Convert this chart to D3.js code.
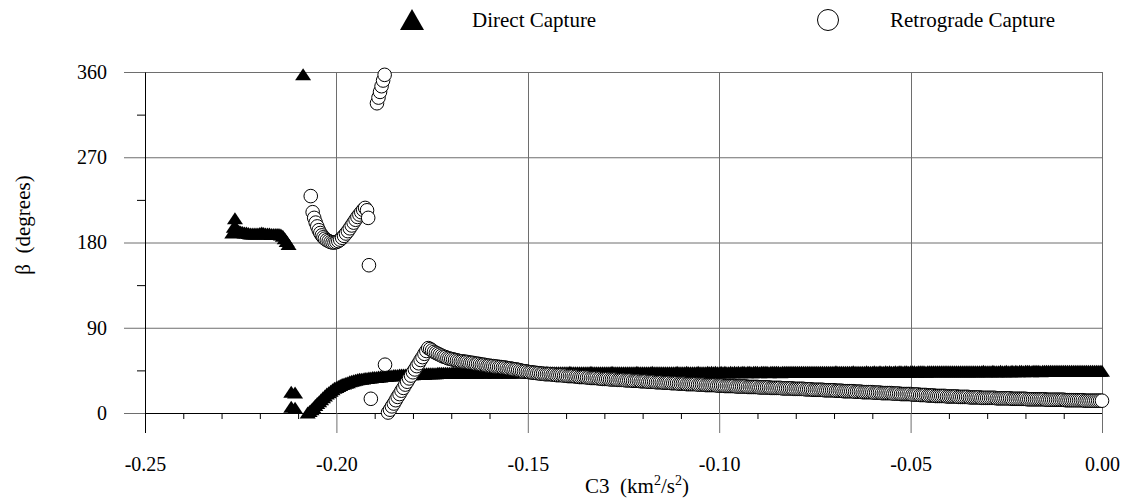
<!DOCTYPE html>
<html>
<head>
<meta charset="utf-8">
<script src="https://cdn.jsdelivr.net/npm/d3@7"></script>
<style>
	body { margin: 0; background: #fff; }
</style>
</head>
<body>
<div id="chart"></div>
<script>
'use strict'

var serif = "'Liberation Serif', 'Times New Roman', Times, 'DejaVu Serif', serif"

// C3 grid of the two long runs (km^2/s^2), step 0.0005
var directStart = -0.2075
var retroStart = -0.1865
var c3Step = 0.0005

// beta (deg) of the direct run, -0.2075 .. 0.000
var directBeta = [
	0, 1.5, 3.5, 5.5, 8, 10, 12, 14, 16, 18,
	20, 21.5, 23, 24.5, 26, 27, 28, 29, 30, 30.5,
	31.5, 32, 33, 33.5, 34, 34.5, 35, 35.5, 35.5, 36,
	36.5, 36.5, 37, 37, 37.5, 37.5, 37.5, 38, 38, 38.5,
	38.5, 38.5, 39, 39, 39, 39.5, 39.5, 39.5, 40, 40,
	40, 40, 40.5, 40.5, 40.5, 40.5, 41, 41, 41, 41,
	41, 41, 41.5, 41.5, 41.5, 41.5, 41.5, 41.5, 42, 42,
	42, 42, 42, 42, 42, 42, 42.5, 42, 42, 42.5, 42, 42, 42.5, 42.5, 42, 42.5, 42.5, 42.5, 42, 42.5,
	42.5, 42.5, 42, 42.5, 42.5, 42.5, 42.5, 42.5, 42, 42.5, 42.5, 42.5, 42.5, 42.5, 42.5, 42, 42.5, 42.5, 42.5, 42.5,
	42.5, 42.5, 42.5, 42.5, 43, 42.5, 42.5, 42.5, 42.5, 42.5, 42.5, 42.5, 42.5, 42.5, 42.5, 43, 42.5, 42.5, 42.5, 42.5,
	42.5, 42.5, 42.5, 42.5, 42.5, 42.5, 42.5, 43, 42.5, 42.5, 42.5, 42.5, 42.5, 42.5, 42.5, 42.5, 42.5, 42.5, 43, 42.5,
	42.5, 42.5, 42.5, 42.5, 42.5, 42.5, 42.5, 42.5, 42.5, 43, 42.5, 42.5, 42.5, 42.5, 42.5, 42.5, 42.5, 42.5, 42.5, 42.5,
	42.5, 42.5, 43, 42.5, 42.5, 42.5, 42.5, 42.5, 42.5, 42.5, 43, 42.5, 42.5, 42.5, 42.5, 42.5, 42.5, 42.5, 42.5, 42.5,
	42.5, 42.5, 42.5, 43, 42.5, 42.5, 42.5, 42.5, 43, 42.5, 42.5, 42.5, 42.5, 42.5, 43, 42.5, 42.5, 42.5, 42.5, 43,
	42.5, 43, 42.5, 43, 42.5, 42.5, 43, 42.5, 43, 42.5, 42.5, 43, 42.5, 43, 42.5, 43, 42.5, 43, 43, 42.5,
	43, 43, 42.5, 43, 43, 43, 42.5, 43, 43, 43, 43, 42.5, 43, 43, 43, 43, 43, 42.5, 43, 43,
	43, 43, 43, 43, 43, 43, 43, 43, 43, 43, 43, 43, 43, 43, 43, 43, 43, 43, 43, 43,
	43, 43, 43, 43, 43, 43, 43.5, 43, 43, 43, 43, 43, 43, 43, 43, 43.5, 43, 43, 43, 43,
	43, 43, 43.5, 43, 43, 43, 43.5, 43, 43, 43.5, 43, 43, 43.5, 43, 43.5, 43, 43, 43.5, 43, 43.5,
	43.5, 43, 43.5, 43.5, 43, 43.5, 43.5, 43.5, 43, 43.5, 43.5, 43.5, 43.5, 43, 43.5, 43.5, 43.5, 43.5, 43.5, 43.5,
	43.5, 43.5, 43.5, 43.5, 43.5, 43.5, 43.5, 43.5, 43.5, 43.5, 43.5, 43.5, 43.5, 43.5, 43.5, 43.5, 43.5, 43.5, 43.5, 43.5,
	43.5, 43.5, 43.5, 44, 43.5, 43.5, 43.5, 43.5, 44, 43.5, 43.5, 43.5, 44, 43.5, 43.5, 44, 43.5, 43.5, 44, 43.5,
	44, 43.5, 44, 44, 43.5, 44, 44, 44, 43.5, 44, 44, 44, 44, 43.5, 44, 44, 44, 44, 44, 44,
	44, 44, 44, 44, 44, 44, 44, 44, 44, 44, 44, 44, 44, 44, 44, 44, 44, 44, 44, 44,
	44, 44, 44, 44, 44, 44
]

// beta (deg) of the retrograde run, -0.1865 .. 0.000
var retroBeta = [
	0.5, 3.5, 7, 10, 13.5, 17, 20, 23.5, 26.5, 30,
	33, 36.5, 39.5, 43, 46, 49.5, 52.5, 56, 59, 62.5,
	65.5, 68.5, 67.5, 66, 64.5, 63.5, 62.5, 61.5, 60.5, 59.5,
	59, 58, 57.5, 57, 56.5, 56, 55.5, 55, 54.5, 54.5,
	54, 54, 53.5, 53, 53, 52.5, 52, 52, 51.5, 51,
	51, 50.5, 50, 50, 49.5, 49.5, 49, 49, 48.5, 48.5,
	48, 48, 47.5, 47, 47, 46.5, 46, 46, 45.5, 45,
	44.5, 44, 44, 43.5, 43, 43, 42.5, 42.5, 42, 42,
	41.5, 41.5, 41, 41, 41, 41, 40.5, 40.5, 40, 40,
	40, 40, 39.5, 39.5, 39, 39, 39, 39, 38.5, 38.5,
	38, 38, 38, 38, 37.5, 37.5, 37, 37, 37, 37,
	36.5, 36.5, 36, 36, 36, 36, 35.5, 35.5, 35.5, 35.5,
	35, 35, 35, 35, 34.5, 34.5, 34.5, 34.5, 34, 34,
	34, 34, 33.5, 33.5, 33.5, 33.5, 33, 33, 33, 33,
	32.5, 32.5, 32.5, 32.5, 32, 32, 32, 32, 31.5, 31.5,
	31.5, 31.5, 31, 31, 31, 31, 30.5, 30.5, 30.5, 30.5,
	30.5, 30.5, 30, 30, 30, 30, 29.5, 29.5, 29.5, 29.5,
	29.5, 29.5, 29, 29, 29, 29, 28.5, 28.5, 28.5, 28.5,
	28.5, 28.5, 28, 28, 28, 28, 28, 28, 27.5, 27.5,
	27.5, 27.5, 27.5, 27.5, 27, 27, 27, 27, 27, 27,
	26.5, 26.5, 26.5, 26.5, 26.5, 26.5, 26, 26, 26, 26, 26, 26, 25.5, 25.5, 25.5, 25.5, 25.5, 25.5, 25, 25,
	25, 25, 24.5, 24.5, 24.5, 24.5, 24.5, 24.5, 24, 24, 24, 24, 24, 24, 23.5, 23.5, 23.5, 23.5, 23, 23,
	23, 23, 23, 23, 22.5, 22.5, 22.5, 22.5, 22, 22, 22, 22, 22, 22, 21.5, 21.5, 21.5, 21.5, 21, 21,
	21, 21, 21, 21, 20.5, 20.5, 20.5, 20.5, 20, 20, 20, 20, 20, 20, 19.5, 19.5, 19.5, 19.5, 19, 19,
	19, 19, 18.5, 18.5, 18.5, 18.5, 18, 18, 18, 18, 18, 18, 17.5, 17.5, 17.5, 17.5, 17.5, 17.5, 17, 17,
	17, 17, 17, 17, 16.5, 16.5, 16.5, 16.5, 16.5, 16.5, 16, 16, 16, 16, 16, 16, 16, 16, 15.5, 15.5,
	15.5, 15.5, 15.5, 15.5, 15.5, 15.5, 15, 15, 15, 15, 15, 15, 15, 15, 14.5, 14.5, 14.5, 14.5, 14.5, 14.5,
	14.5, 14.5, 14.5, 14.5, 14, 14, 14, 14, 14, 14, 14, 14, 14, 14, 13.5, 13.5, 13.5, 13.5, 13.5, 13.5,
	13.5, 13.5, 13.5, 13.5, 13, 13, 13, 13, 13, 13, 13, 13, 13, 13
]

// scattered direct points [C3, beta]
var directOther = [
	[-0.2272, 190], [-0.2268, 196], [-0.2265, 205], [-0.226, 194], [-0.2255, 192],
	[-0.225, 191], [-0.2245, 190.5], [-0.224, 190], [-0.2235, 190], [-0.223, 189.5],
	[-0.2225, 189], [-0.222, 189], [-0.2215, 189], [-0.221, 189], [-0.2205, 189],
	[-0.22, 189.5], [-0.2195, 190], [-0.219, 189.5], [-0.2185, 189], [-0.218, 189],
	[-0.2175, 189], [-0.217, 188.5], [-0.2165, 188.5], [-0.216, 188.5], [-0.2155, 188.5],
	[-0.215, 188.5], [-0.2145, 188], [-0.214, 186.5], [-0.2135, 184], [-0.213, 181],
	[-0.2125, 178],
	[-0.2087, 357],
	[-0.2118, 22], [-0.2108, 21], [-0.2118, 6], [-0.2108, 5]
]

// scattered retrograde points [C3, beta]
var retroOther = [
	[-0.2067, 229], [-0.2062, 212], [-0.2058, 206], [-0.2054, 201], [-0.205, 197],
	[-0.2046, 193], [-0.2042, 190], [-0.2038, 187.5], [-0.2034, 185.5], [-0.203, 184],
	[-0.2025, 182.5], [-0.202, 181.5], [-0.2015, 180.5], [-0.201, 180], [-0.2005, 180],
	[-0.2, 180.5], [-0.1995, 181.5], [-0.199, 183], [-0.1985, 185], [-0.198, 187],
	[-0.1975, 189.5], [-0.197, 192], [-0.1965, 195], [-0.196, 198], [-0.1955, 201],
	[-0.195, 204], [-0.1945, 207], [-0.194, 209.5], [-0.1935, 212], [-0.193, 214.5],
	[-0.1925, 216.5], [-0.192, 214], [-0.1917, 206],
	[-0.1915, 156],
	[-0.1894, 327], [-0.189, 333], [-0.1886, 339], [-0.1882, 345], [-0.1878, 351], [-0.1874, 357],
	[-0.191, 15], [-0.1873, 51]
]

var xMajor = [-0.25, -0.20, -0.15, -0.10, -0.05, 0.00]
var xMinor = [-0.24, -0.23, -0.22, -0.21, -0.19, -0.18, -0.17, -0.16, -0.14, -0.13, -0.12, -0.11,
	-0.09, -0.08, -0.07, -0.06, -0.04, -0.03, -0.02, -0.01]
var yMajor = [0, 90, 180, 270, 360]
var yMinor = [45, 135, 225, 315]

var width = 1127, height = 501
var margins = {top : 72, bottom : 88, left : 145, right : 25}

function expand(start, values){
	return values.map(function(v, i){
		return [Math.round((start + i * c3Step) * 10000) / 10000, v]
	})
}

var directData = directOther.concat(expand(directStart, directBeta))
var retroData = retroOther.concat(expand(retroStart, retroBeta))

var svg = d3.select("#chart")
	.append("svg")
	.attr("width", width)
	.attr("height", height)
	.style("font-family", serif)

var x = d3.scaleLinear()
	.domain([-0.25, 0])
	.range([margins.left, width - margins.right])

var y = d3.scaleLinear()
	.domain([0, 360])
	.range([height - margins.bottom, margins.top])

var gridColor = "#6e6e6e"

// horizontal grid
svg.append("g")
	.selectAll("line")
	.data(yMajor.filter(function(d){ return d > 0 }))
	.enter().append("line")
	.attr("x1", x(-0.25)).attr("x2", x(0))
	.attr("y1", function(d){ return y(d) + 0.5 })
	.attr("y2", function(d){ return y(d) + 0.5 })
	.attr("stroke", gridColor)

// vertical grid
svg.append("g")
	.selectAll("line")
	.data(xMajor.filter(function(d){ return d > -0.25 }))
	.enter().append("line")
	.attr("x1", function(d){ return Math.round(x(d)) + 0.5 })
	.attr("x2", function(d){ return Math.round(x(d)) + 0.5 })
	.attr("y1", y(360)).attr("y2", y(0))
	.attr("stroke", gridColor)

// minor ticks
svg.append("g")
	.attr("transform", "translate(" + x(-0.25) + ",0)")
	.call(d3.axisLeft(y).tickValues(yMinor).tickSize(8).tickSizeOuter(0).tickFormat(""))
	.call(function(g){ g.select(".domain").remove() })

svg.append("g")
	.attr("transform", "translate(0," + y(0) + ")")
	.call(d3.axisBottom(x).tickValues(xMinor).tickSize(6).tickSizeOuter(0).tickFormat(""))
	.call(function(g){ g.select(".domain").remove() })

// major axes with labels
var yAxis = svg.append("g")
	.attr("transform", "translate(" + x(-0.25) + ",0)")
	.call(d3.axisLeft(y).tickValues(yMajor).tickSize(21).tickSizeOuter(0).tickPadding(17))
yAxis.attr("font-family", serif)
yAxis.selectAll("text").style("font-size", "20px").style("font-family", serif)
yAxis.selectAll(".tick line").attr("stroke", gridColor)

var xAxis = svg.append("g")
	.attr("transform", "translate(0," + y(0) + ")")
	.call(d3.axisBottom(x).tickValues(xMajor).tickSize(20).tickSizeOuter(0).tickPadding(24)
		.tickFormat(function(d){ return d.toFixed(2) }))
xAxis.attr("font-family", serif)
xAxis.selectAll("text").style("font-size", "20px").style("font-family", serif)
xAxis.selectAll(".tick line").attr("stroke", gridColor)
xAxis.select(".tick line").attr("stroke", "#000")

// axis titles
svg.append("text")
	.attr("transform", "translate(30,225) rotate(-90)")
	.attr("text-anchor", "middle")
	.style("font-size", "21px")
	.style("white-space", "pre")
	.text("\u03b2  (degrees)")

var xt = svg.append("text")
	.attr("x", 637).attr("y", 493)
	.attr("text-anchor", "middle")
	.style("font-size", "21px")
	.style("white-space", "pre")
xt.append("tspan").text("C3  (km")
xt.append("tspan").attr("dy", -8).style("font-size", "14px").text("2")
xt.append("tspan").attr("dy", 8).text("/s")
xt.append("tspan").attr("dy", -8).style("font-size", "14px").text("2")
xt.append("tspan").attr("dy", 8).text(")")

// markers
var triPath = "M0,-6.5L8,5.5L-8,5.5Z"

svg.append("g")
	.selectAll("path")
	.data(directData)
	.enter().append("path")
	.attr("d", triPath)
	.attr("transform", function(d){ return "translate(" + x(d[0]) + "," + y(d[1]) + ")" })
	.attr("fill", "#000")

svg.append("g")
	.selectAll("circle")
	.data(retroData)
	.enter().append("circle")
	.attr("cx", function(d){ return x(d[0]) })
	.attr("cy", function(d){ return y(d[1]) })
	.attr("r", 6.8)
	.attr("fill", "#fff")
	.attr("stroke", "#000")
	.attr("stroke-width", 1)

// legend
var legend = svg.append("g")
legend.append("path")
	.attr("d", "M0,-11L12,10L-12,10Z")
	.attr("transform", "translate(412,20)")
	.attr("fill", "#000")
legend.append("text")
	.attr("x", 472).attr("y", 27)
	.style("font-size", "21px")
	.text("Direct Capture")
legend.append("circle")
	.attr("cx", 828).attr("cy", 20).attr("r", 10.5)
	.attr("fill", "#fff").attr("stroke", "#000")
legend.append("text")
	.attr("x", 890).attr("y", 27)
	.style("font-size", "21px")
	.text("Retrograde Capture")
</script>
</body>
</html>
